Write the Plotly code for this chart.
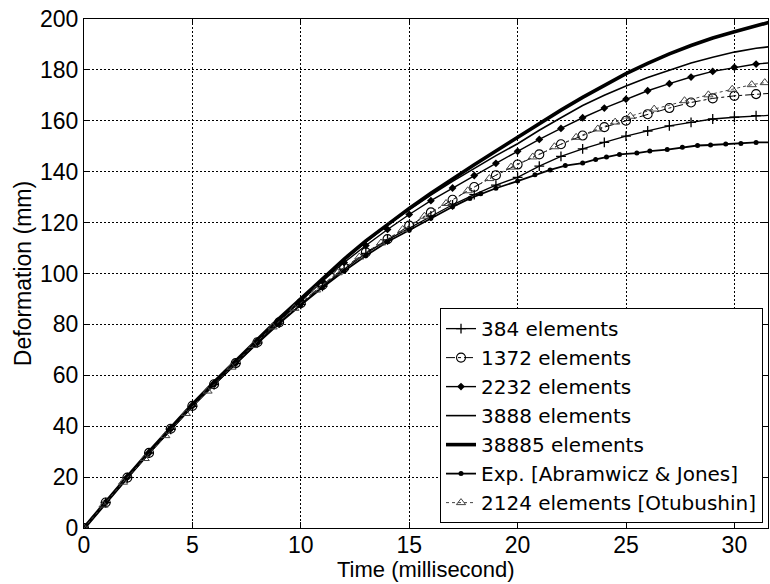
import plotly.graph_objects as go

# ---------------- data ----------------
t_sim = list(range(0, 33))  # ms

y_384 = [0, 10.0, 19.8, 29.4, 38.8, 47.8, 56.3, 64.6, 72.7, 80.5, 87.9, 95.0, 101.7,
         107.9, 113.2, 117.8, 122.6, 127.0, 131.0, 134.7, 137.8, 142.2, 146.0, 149.0,
         151.5, 154.0, 156.0, 158.0, 159.4, 160.7, 161.4, 162.0, 162.3]

y_1372 = [0, 10.0, 19.8, 29.5, 39.0, 48.0, 56.5, 64.8, 73.0, 80.8, 88.3, 95.5, 102.3,
          108.3, 113.5, 118.8, 124.0, 129.0, 134.0, 138.6, 142.8, 146.8, 150.8, 154.2,
          157.5, 160.0, 162.6, 165.0, 167.2, 168.8, 169.8, 170.5, 171.0]

y_2232 = [0, 10.1, 20.0, 29.7, 39.2, 48.2, 56.8, 65.2, 73.4, 81.4, 89.3, 97.0, 104.3,
          111.0, 117.3, 123.2, 128.6, 133.6, 138.5, 143.3, 148.0, 152.7, 157.0, 161.2,
          165.0, 168.5, 171.8, 174.6, 177.2, 179.4, 181.0, 182.3, 183.0]

y_3888 = [0, 10.2, 20.1, 29.8, 39.3, 48.4, 57.1, 65.6, 73.9, 82.0, 89.8, 97.7, 105.2,
          112.3, 119.0, 125.0, 130.8, 136.2, 141.4, 146.3, 151.0, 156.3, 161.2, 166.0,
          170.0, 173.7, 177.0, 180.0, 182.7, 185.0, 187.0, 188.5, 189.5]

y_38885 = [0, 10.2, 20.1, 29.9, 39.4, 48.5, 57.3, 65.8, 74.2, 82.3, 90.0, 98.0, 105.7,
           112.8, 119.4, 125.6, 131.5, 137.2, 142.7, 148.1, 153.5, 158.9, 164.2, 169.2,
           174.0, 178.5, 182.6, 186.3, 189.6, 192.5, 195.0, 197.4, 199.6]

t_exp = [0, 1, 2, 3, 4, 5, 6, 7, 8, 9, 10, 11, 12, 13, 14, 15, 16, 17, 17.8, 18.3,
         19.0, 20.0, 20.8, 21.5, 22.2, 23.0, 23.6, 24.1, 24.7, 25.5, 26.1, 26.9, 27.6,
         28.3, 28.9, 29.6, 30.3, 31.0, 31.7]
y_exp = [0, 10.0, 19.8, 29.4, 38.8, 47.8, 56.3, 64.6, 72.6, 80.3, 87.6, 94.5, 101.0,
         107.0, 112.5, 117.0, 121.7, 126.2, 129.5, 131.3, 133.5, 136.3, 138.8, 140.7,
         142.4, 143.4, 144.8, 145.8, 146.8, 147.3, 148.1, 148.7, 149.6, 150.3, 150.5,
         150.9, 151.1, 151.5, 151.5]

t_otu = [0, 0.9, 1.8, 2.8, 3.75, 4.7, 5.7, 6.8, 7.8, 8.7, 9.7, 10.7, 11.7, 12.7, 13.7,
         14.7, 15.7, 16.7, 17.7, 18.7, 19.7, 20.7, 21.7, 22.7, 23.7, 24.5, 25.2, 26.3,
         27.7, 28.8, 29.9, 30.8, 31.4]
y_otu = [0, 9.0, 18.0, 27.3, 36.3, 45.0, 53.8, 63.2, 71.7, 79.0, 86.3, 93.5, 100.3,
         106.5, 112.0, 117.3, 122.5, 127.5, 132.5, 137.3, 141.8, 145.8, 149.8, 153.5,
         156.8, 159.5, 161.8, 164.6, 167.9, 170.2, 172.4, 174.2, 175.0]

x_ticks = [0, 5, 10, 15, 20, 25, 30]
y_ticks = [0, 20, 40, 60, 80, 100, 120, 140, 160, 180, 200]

FONT = "Liberation Sans, Arial, Helvetica, sans-serif"
LEGEND_FONT = "DejaVu Sans, Liberation Sans, Arial, sans-serif"

fig = go.Figure()

fig.add_trace(go.Scatter(
    x=t_sim, y=y_384, name="384 elements", mode="lines+markers",
    line=dict(color="black", width=1.3),
    marker=dict(symbol="cross-thin", size=7, line=dict(color="black", width=1.3))))

fig.add_trace(go.Scatter(
    x=t_sim, y=y_1372, name="1372 elements", mode="lines+markers",
    line=dict(color="black", width=1, dash="dashdot"),
    marker=dict(symbol="circle-open", size=9, color="black", line=dict(width=1.1))))

fig.add_trace(go.Scatter(
    x=t_sim, y=y_2232, name="2232 elements", mode="lines+markers",
    line=dict(color="black", width=1.4),
    marker=dict(symbol="diamond", size=6, color="black")))

fig.add_trace(go.Scatter(
    x=t_sim, y=y_3888, name="3888 elements", mode="lines",
    line=dict(color="black", width=1.6)))

fig.add_trace(go.Scatter(
    x=t_sim, y=y_38885, name="38885 elements", mode="lines",
    line=dict(color="black", width=3.6)))

fig.add_trace(go.Scatter(
    x=t_exp, y=y_exp, name="Exp. [Abramwicz &amp; Jones]", mode="lines+markers",
    line=dict(color="black", width=1.8),
    marker=dict(symbol="circle", size=5, color="black")))

fig.add_trace(go.Scatter(
    x=t_otu, y=y_otu, name="2124 elements [Otubushin]", mode="lines+markers",
    line=dict(color="#444444", width=1, dash="dot"),
    marker=dict(symbol="triangle-up-open", size=8, color="#444444", line=dict(width=1))))

axis_common = dict(
    showline=True, linecolor="black", linewidth=1, mirror="ticks",
    ticks="inside", ticklen=6, tickwidth=1, tickcolor="black",
    showgrid=True, gridcolor="black", gridwidth=1, griddash="2px,2px",
    zeroline=False,
    tickfont=dict(family=FONT, size=23, color="black"),
)

fig.update_xaxes(range=[0, 31.55], tickvals=x_ticks,
                 ticktext=[str(v) for v in x_ticks], ticklabelstandoff=-4,
                 **axis_common)
fig.update_yaxes(
    range=[0, 200], tickvals=y_ticks, ticktext=[str(v) for v in y_ticks],
    title=dict(text="Deformation (mm)", font=dict(family=FONT, size=23, color="black"),
               standoff=1),
    **axis_common)

fig.add_annotation(
    text="Time (millisecond)", xref="paper", yref="paper",
    x=0.5, y=-0.082, xanchor="center", yanchor="middle", showarrow=False,
    font=dict(family=FONT, size=22, color="black"))

fig.update_layout(
    width=770, height=584,
    margin=dict(l=84, r=2, t=19, b=56),
    paper_bgcolor="white", plot_bgcolor="white",
    font=dict(family=FONT, color="black"),
    legend=dict(
        x=0.9927, y=0.432, xanchor="right", yanchor="top",
        bgcolor="white", bordercolor="black", borderwidth=1,
        font=dict(family=LEGEND_FONT, size=20, color="black"),
        itemwidth=30, tracegroupgap=0,
    ),
    showlegend=True,
)

fig.write_html("out.html")
